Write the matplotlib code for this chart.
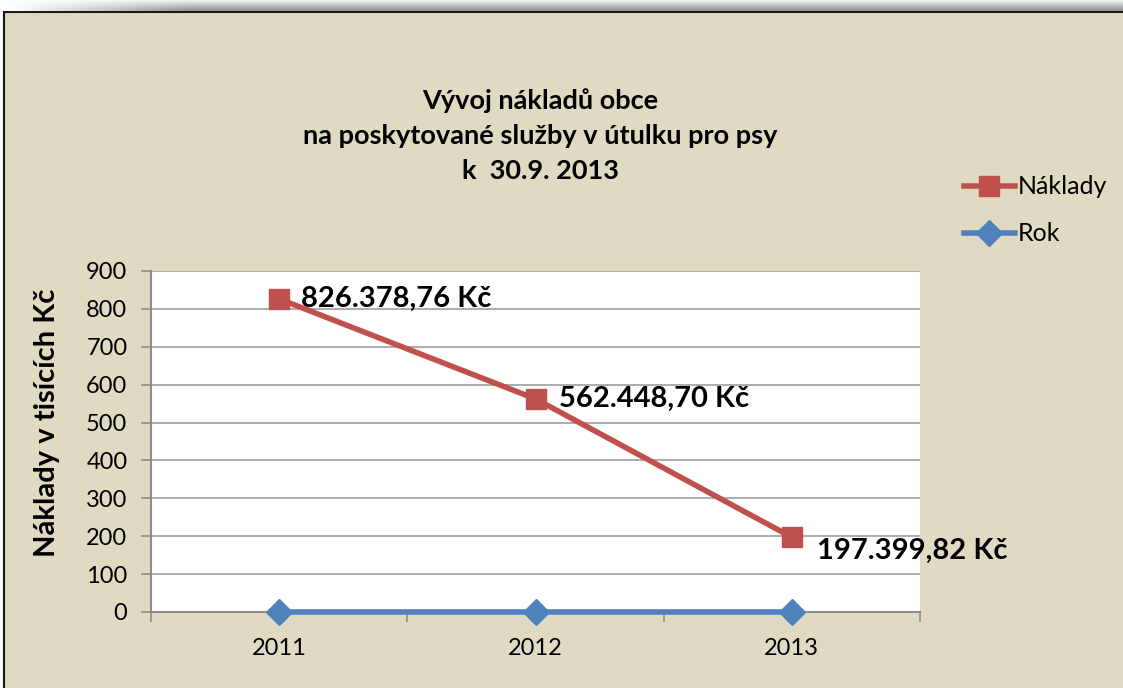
import numpy as np
import matplotlib
matplotlib.use('Agg')
import matplotlib.pyplot as plt
from matplotlib.patches import Rectangle

plt.rcParams['font.family'] = ['Lato', 'DejaVu Sans']

years = ['2011', '2012', '2013']
naklady = [826.37876, 562.4487, 197.39982]
rok = [0, 0, 0]
value_labels = ['826.378,76 Kč', '562.448,70 Kč', '197.399,82 Kč']
yticks = [0, 100, 200, 300, 400, 500, 600, 700, 800, 900]

W, H = 1123, 688
fig = plt.figure(figsize=(W / 100, H / 100), dpi=100)
fig.patch.set_facecolor('white')

def fx(px):
    return px / W

def fy(py):
    return 1 - py / H

# background: beige chart frame
bg = fig.add_axes([0, 0, 1, 1], zorder=-5)
bg.set_xlim(0, W)
bg.set_ylim(H, 0)
bg.axis('off')
bg.add_patch(Rectangle((3.5, 11.5), W + 20, H + 20, facecolor='#E0DAC2',
                       edgecolor='#1a1a1a', linewidth=1.5))

# grey shadow above the frame
sh = fig.add_axes([fx(4), fy(11), 1 - fx(4), 11 / H], zorder=-4)
grad = np.linspace(0.95, 0.55, 32).reshape(-1, 1)
fade = np.clip(np.linspace(0, 6, 400), 0, 1).reshape(1, -1)
img = 1 - (1 - grad) * fade
sh.imshow(img, cmap='gray', vmin=0, vmax=1, aspect='auto', interpolation='bilinear')
sh.axis('off')

ax = fig.add_axes([fx(151), fy(612), fx(920) - fx(151), fy(271) - fy(612)])
ax.set_facecolor('white')
x = np.arange(len(years))

ax.plot(x, naklady, color='#C0504D', linewidth=4, marker='s', markersize=15,
        label='Náklady', zorder=4, clip_on=False)
ax.plot(x, rok, color='#4F81BD', linewidth=4, marker='D', markersize=13,
        label='Rok', zorder=5, clip_on=False)

offsets = [(16, 0), (17, 0), (18, -10)]
for xi, v, lab, off in zip(x, naklady, value_labels, offsets):
    ax.annotate(lab, (xi, v), xytext=off, textcoords='offset points',
                ha='left', va='center', fontsize=21, fontweight='bold', color='black',
                zorder=6)

ax.set_xlim(-0.5, 2.5)
ax.set_ylim(0, 900)
ax.set_yticks(yticks)
ax.set_xticks(x)
ax.set_xticklabels(years)
ax.set_xticks([-0.5, 0.5, 1.5, 2.5], minor=True)
ax.tick_params(axis='x', which='major', length=0, pad=19, labelsize=17)
ax.tick_params(axis='x', which='minor', length=7, width=1.2, color='#8c8c8c', direction='out')
ax.tick_params(axis='y', length=7, width=1.2, color='#8c8c8c', direction='out', pad=10, labelsize=17)
ax.grid(axis='y', color='#a6a6a6', linewidth=1.3, zorder=1)
ax.set_axisbelow(True)
for s in ['top', 'right']:
    ax.spines[s].set_visible(False)
for s in ['left', 'bottom']:
    ax.spines[s].set_color('#8c8c8c')
    ax.spines[s].set_linewidth(1.5)

fig.text(fx(47), fy(423), 'Náklady v tisících Kč', rotation=90, ha='center', va='center',
         fontsize=21, fontweight='bold')

fig.text(fx(540), fy(136), 'Vývoj nákladů obce\nna poskytované služby v útulku pro psy\nk  30.9. 2013',
         ha='center', va='center', fontsize=19.5, fontweight='bold', linespacing=1.55)

fig.legend(loc='upper left', bbox_to_anchor=(fx(941), fy(153)), frameon=False,
           fontsize=18, handlelength=2.05, labelspacing=0.95, handletextpad=0.1)

fig.savefig('out.png', dpi=100)
